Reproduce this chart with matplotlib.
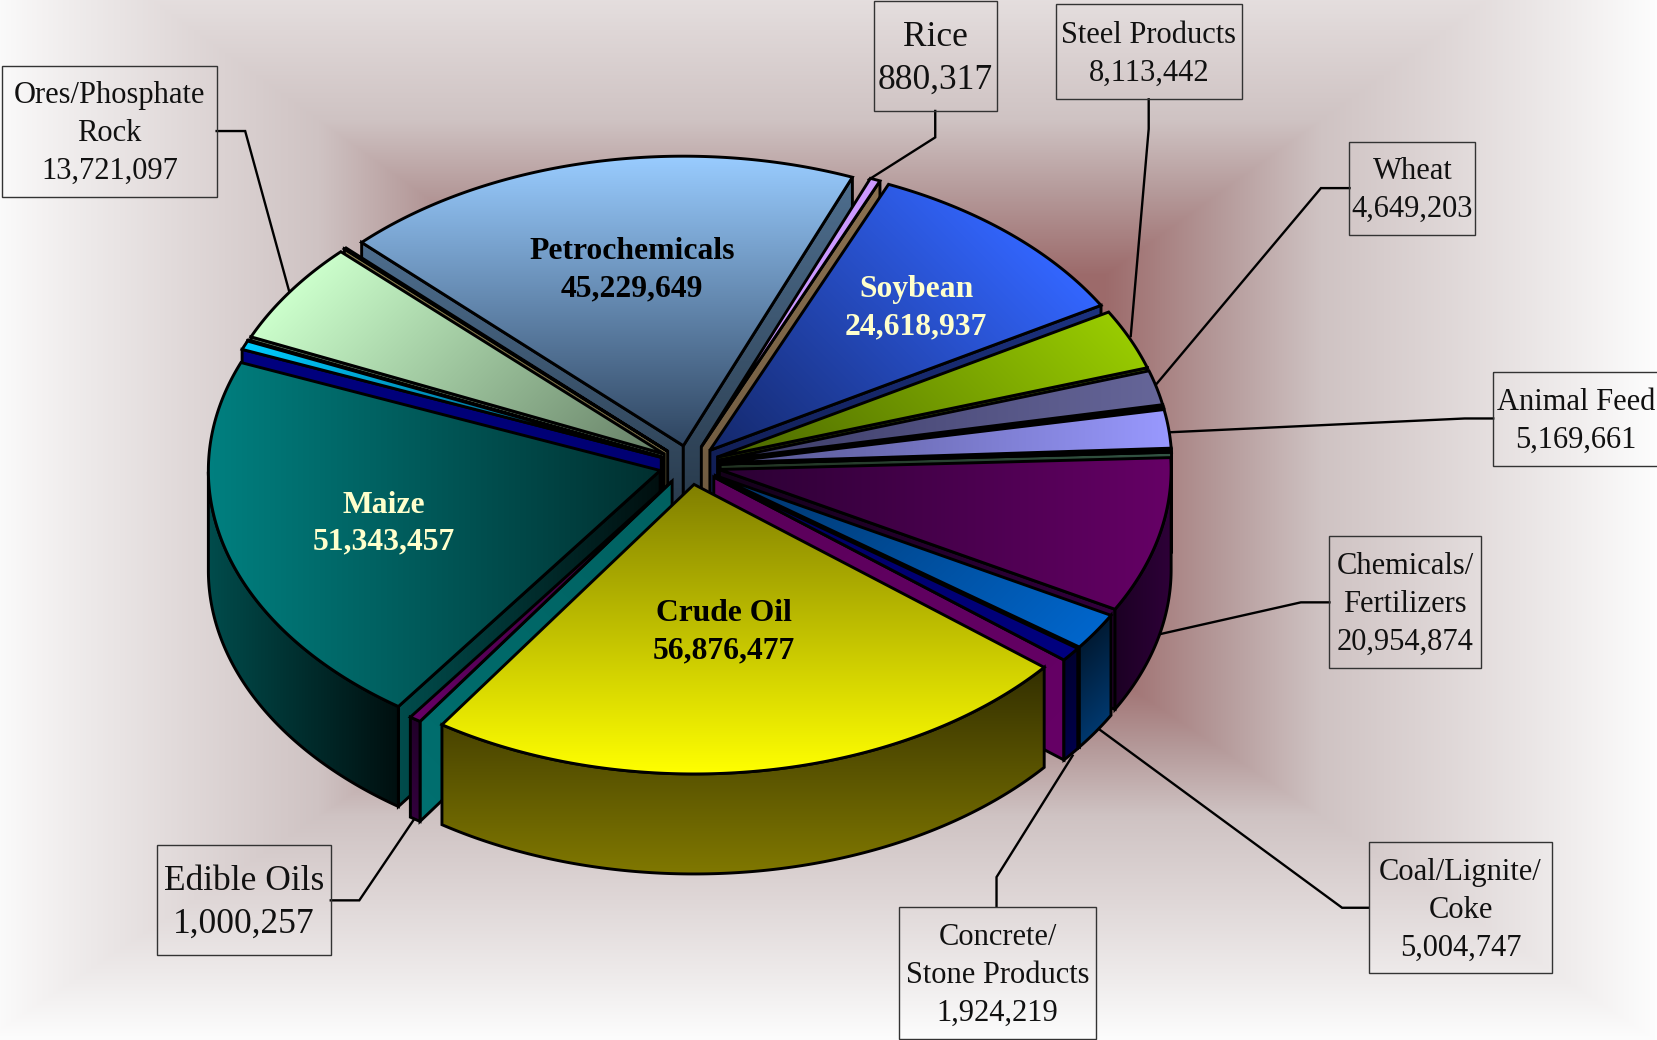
import numpy as np
import matplotlib
matplotlib.use('Agg')
import matplotlib.pyplot as plt
from matplotlib.colors import to_rgb
from matplotlib.patches import Polygon

W, H = 1657, 1040
K = 1657 / 1568  # picture was measured at 1568 wide

# clockwise from the left edge of Petrochemicals, unnamed slivers are estimated
names = ['Petrochemicals', 'Rice', 'Soybean', 'Steel Products', 'Wheat', '', 'Animal Feed', '',
         'Chemicals/\nFertilizers', 'Coal/Lignite/\nCoke', 'Concrete/\nStone Products',
         'Crude Oil', 'Edible Oils', 'Maize', '', '', 'Ores/Phosphate\nRock', '']
values = [45229649, 880317, 24618937, 8113442, 4649203, 300000, 5169661, 350000,
          20954874, 5004747, 1924219,
          56876477, 1000257, 51343457, 1200000, 120000, 13721097, 200000]

top_bright = ['#99ccff', '#cc99ff', '#3366ff', '#99cc00', '#666699', '#006600', '#9999ff', '#669988',
              '#660066', '#0066cc', '#000080',
              '#ffff00', '#660066', '#008080', '#00ccff', '#666644', '#ccffcc', '#8c8050']
top_dark = ['#2f4560', '#cc99ff', '#14286b', '#4a6600', '#3b3b66', '#003300', '#55558c', '#669988',
            '#2a0033', '#003366', '#000060',
            '#807f00', '#330033', '#002f2f', '#004466', '#333322', '#667f66', '#8c8050']
wall_bright = ['#4e6e8e', '#80684f', '#1c3280', '#4a6600', '#333366', '#003300', '#4d4d80', '#335544',
               '#2e0038', '#00386e', '#00004a',
               '#807800', '#33003d', '#004c4c', '#006688', '#333322', '#667f66', '#463f28']
wall_dark = ['#2a3a4a', '#80684f', '#101c50', '#263300', '#1a1a33', '#001a00', '#26264d', '#223322',
             '#1c0024', '#001a33', '#000030',
             '#332f00', '#200028', '#000f0f', '#003344', '#222211', '#334033', '#463f28']
radial_bright = ['#4e6e8e', '#8a7050', '#1c3280', '#4a6600', '#333366', '#003300', '#4d4d80', '#335544',
                 '#33003d', '#00386e', '#660066',
                 '#807800', '#007070', '#004c4c', '#000080', '#333322', '#667f66', '#8c8050']
radial_dark = ['#243444', '#6e5a40', '#101c50', '#263300', '#1a1a33', '#001a00', '#26264d', '#223322',
               '#14001a', '#001a33', '#5a005a',
               '#332f00', '#006060', '#000f0f', '#000070', '#222211', '#334033', '#6e6440']

# label boxes: left, top, right, bottom in measured pixels
boxes = {'Rice': (827, 1, 943, 105), 'Steel Products': (999, 4, 1175, 94),
         'Wheat': (1277, 134, 1396, 222), 'Animal Feed': (1413, 352, 1570, 441),
         'Chemicals/\nFertilizers': (1258, 507, 1401, 632), 'Coal/Lignite/\nCoke': (1295, 797, 1469, 921),
         'Concrete/\nStone Products': (851, 858, 1037, 983), 'Edible Oils': (149, 800, 313, 904),
         'Ores/Phosphate\nRock': (2, 62, 205, 186)}
leaders = {'Rice': [(885, 105), (885, 130), (822, 170)], 'Steel Products': [(1087, 94), (1087, 122), (1070, 318)],
           'Wheat': [(1277, 178), (1250, 178), (1093, 365)], 'Animal Feed': [(1413, 396), (1386, 396), (1108, 409)],
           'Chemicals/\nFertilizers': [(1258, 570), (1231, 570), (1098, 600)],
           'Coal/Lignite/\nCoke': [(1295, 859), (1270, 859), (1040, 690)],
           'Concrete/\nStone Products': [(943, 858), (943, 830), (1015, 715)],
           'Edible Oils': [(313, 852), (340, 852), (392, 775)],
           'Ores/Phosphate\nRock': [(205, 124), (232, 124), (274, 277)]}
inner = {'Petrochemicals': (598, 255.5, '#000000'), 'Soybean': (867, 291.5, '#ffffcc'),
         'Maize': (363, 495.5, '#ffffcc'), 'Crude Oil': (685, 598.5, '#000000')}

CX, CY = 652.5 * K, 440 * K
RX, RY = 427.5 * K, 274 * K
DEPTH = 100
EXPLODE = 29 * K
START = 135.4
LW = 2.1

plt.rcParams['font.family'] = ['Liberation Serif', 'DejaVu Serif']
fig = plt.figure(figsize=(W / 100, H / 100), dpi=100)
ax = fig.add_axes([0, 0, 1, 1])
ax.axis('off')


def background():
    x, y = np.meshgrid(np.arange(W) + 0.5, np.arange(H) + 0.5)
    tx = np.abs(x - 820) / 835
    ty = np.where(y < 480, (480 - y) / 600, (y - 480) / 560)
    t = np.maximum(tx, ty)
    stops = [0, 0.34, 0.48, 0.6, 0.75, 0.9, 1.0]
    cols = np.array([to_rgb(c) for c in ['#9c6a6a', '#9c6a6a', '#b59a9a', '#cfc3c3',
                                         '#dfd7d7', '#f0eded', '#fdfdfd']])
    img = np.dstack([np.interp(t, stops, cols[:, i]) for i in range(3)])
    ax.imshow(img, extent=[0, W, H, 0], zorder=0, aspect='auto')


def grad_fill(poly, angle, c0, c1, z):
    poly = np.array(poly)
    d = np.array([np.cos(np.radians(angle)), -np.sin(np.radians(angle))])
    proj = poly @ d
    x0, y0 = poly.min(axis=0)
    x1, y1 = poly.max(axis=0)
    x, y = np.meshgrid(np.linspace(x0, x1, int(x1 - x0) + 2), np.linspace(y0, y1, int(y1 - y0) + 2))
    t = np.clip((x * d[0] + y * d[1] - proj.min()) / max(proj.max() - proj.min(), 1), 0, 1)
    c0, c1 = np.array(to_rgb(c0)), np.array(to_rgb(c1))
    img = c0 + t[..., None] * (c1 - c0)
    im = ax.imshow(img, extent=[x0, x1, y1, y0], zorder=z, aspect='auto', interpolation='bilinear')
    patch = Polygon(poly, closed=True, fc='none', ec='black', lw=LW, joinstyle='miter', zorder=z + 0.1)
    ax.add_patch(patch)
    im.set_clip_path(patch)


def draw_slice(i, a0, a1, z):
    mid = (a0 + a1) / 2
    snap = round(mid / 45) * 45
    tx = CX + EXPLODE * np.cos(np.radians(mid))
    ty = CY - EXPLODE * np.sin(np.radians(mid)) * RY / RX
    deg = np.linspace(a0, a1, max(int(abs(a1 - a0) * 2), 2) + 1)
    arc = np.radians(deg)
    rim = np.column_stack([tx + RX * np.cos(arc), ty - RY * np.sin(arc)])
    tip = np.array([tx, ty])
    down = np.array([0, DEPTH])
    # only faces turned to the viewer, the others would poke out past the top
    if np.cos(arc[0]) < 0:
        grad_fill([tip, rim[0], rim[0] + down, tip + down], snap, radial_dark[i], radial_bright[i], z)
    if np.cos(arc[-1]) > 0:
        grad_fill([tip, rim[-1], rim[-1] + down, tip + down], snap, radial_dark[i], radial_bright[i], z + 0.2)
    front = rim[np.sin(arc) < 0]
    if len(front) > 1:
        grad_fill(np.vstack([front, (front + down)[::-1]]), snap, wall_dark[i], wall_bright[i], z + 0.4)
    grad_fill(np.vstack([[tip], rim]), snap, top_dark[i], top_bright[i], z + 0.6)


background()

# leaders sit behind the pie
for name, pts in leaders.items():
    pts = np.array(pts) * K
    ax.plot(pts[:, 0], pts[:, 1], color='black', lw=1.7, zorder=1, solid_joinstyle='miter')

sweep = np.array(values) / sum(values) * 360
ends = START - np.cumsum(sweep)
starts = ends + sweep
order = np.argsort(-np.sin(np.radians((starts + ends) / 2)))
for z, i in enumerate(order):
    draw_slice(i, starts[i], ends[i], 2 + z)

for i, name in enumerate(names):
    if not name:
        continue
    label = name + '\n' + format(values[i], ',')
    if name in boxes:
        l, t, r, b = boxes[name]
        ax.add_patch(plt.Rectangle((l * K, t * K), (r - l) * K, (b - t) * K, fc='none',
                                   ec='#333333', lw=1.0, zorder=60))
        big = name in ('Rice', 'Edible Oils')
        ax.text((l + r) / 2 * K, (t + b) / 2 * K + 2.5, label, ha='center', va='center', color='#111111',
                fontsize=25.5 if big else 22, linespacing=1.38 if big else 1.42, zorder=61)
    else:
        x, y, col = inner[name]
        ax.text(x * K, y * K, label, ha='center', va='center', color=col, fontsize=22.8,
                fontweight='bold', linespacing=1.37, zorder=61)

ax.set_xlim(0, W)
ax.set_ylim(H, 0)
fig.savefig('out.png', dpi=100)
